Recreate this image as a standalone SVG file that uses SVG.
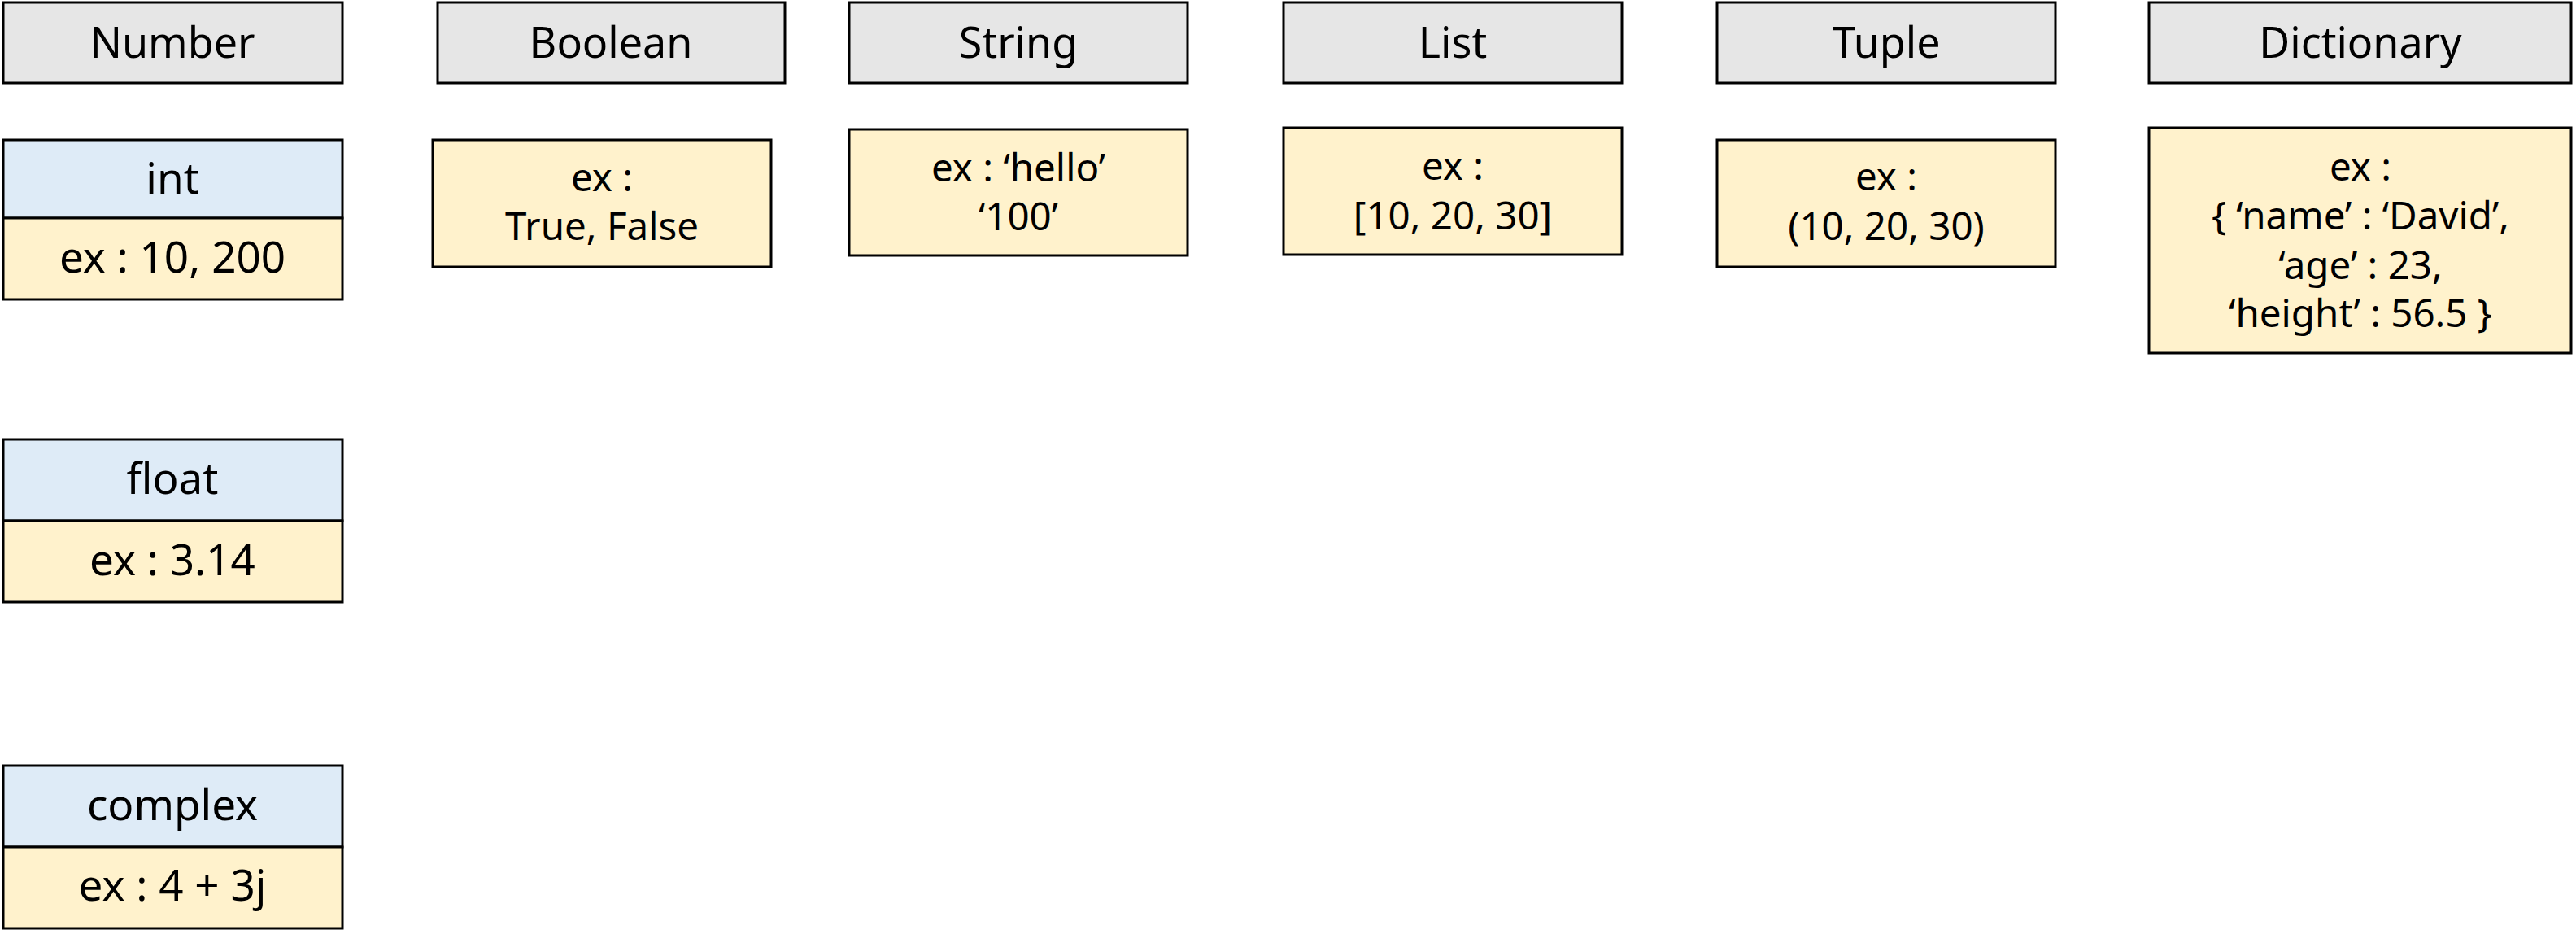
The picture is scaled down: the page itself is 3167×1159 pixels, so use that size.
<svg xmlns="http://www.w3.org/2000/svg" width="3167" height="1159" viewBox="0 0 3167 1159">
<style>
rect{stroke:#000;stroke-width:3}
.hd{fill:#e6e6e6}
.bl{fill:#deebf7}
.yl{fill:#fff2cc}
text{font-family:"Noto Sans","Open Sans","DejaVu Sans",sans-serif;fill:#000;text-anchor:middle}
.th{font-size:52px}
.tl{font-size:53px}
.tb{font-size:47.5px}
</style>
<rect x="0" y="0" width="3167" height="1159" fill="#fff" style="stroke:none"/>
<g id="connectors"/>
<g id="number">
<rect class="hd" x="4" y="3" width="417" height="99"/>
<text class="th" x="212" y="71">Number</text>
</g>
<g id="boolean">
<rect class="hd" x="538" y="3" width="427" height="99"/>
<text class="th" x="751" y="71">Boolean</text>
</g>
<g id="string">
<rect class="hd" x="1044" y="3" width="416" height="99"/>
<text class="th" x="1252" y="71">String</text>
</g>
<g id="list">
<rect class="hd" x="1578" y="3" width="416" height="99"/>
<text class="th" x="1786" y="71">List</text>
</g>
<g id="tuple">
<rect class="hd" x="2111" y="3" width="416" height="99"/>
<text class="th" x="2319" y="71">Tuple</text>
</g>
<g id="dictionary">
<rect class="hd" x="2642" y="3" width="519" height="99"/>
<text class="th" x="2902" y="71">Dictionary</text>
</g>
<g id="int">
<rect class="bl" x="4" y="172" width="417" height="96"/>
<rect class="yl" x="4" y="268" width="417" height="100"/>
<text class="tl" x="212" y="238">int</text>
<text class="tl" x="212" y="335">ex : 10, 200</text>
</g>
<g id="float">
<rect class="bl" x="4" y="540" width="417" height="100"/>
<rect class="yl" x="4" y="640" width="417" height="100"/>
<text class="tl" x="212" y="607">float</text>
<text class="tl" x="212" y="707">ex : 3.14</text>
</g>
<g id="complex">
<rect class="bl" x="4" y="941" width="417" height="100"/>
<rect class="yl" x="4" y="1041" width="417" height="100"/>
<text class="tl" x="212" y="1008">complex</text>
<text class="tl" x="212" y="1107">ex : 4 + 3j</text>
</g>
<g id="boolean-ex">
<rect class="yl" x="532" y="172" width="416" height="156"/>
<text class="tb" x="740" y="235">ex :</text>
<text class="tb" x="740" y="295">True, False</text>
</g>
<g id="string-ex">
<rect class="yl" x="1044" y="159" width="416" height="155"/>
<text class="tb" x="1252" y="223">ex : ‘hello’</text>
<text class="tb" x="1252" y="283">‘100’</text>
</g>
<g id="list-ex">
<rect class="yl" x="1578" y="157" width="416" height="156"/>
<text class="tb" x="1786" y="221">ex :</text>
<text class="tb" x="1786" y="282">[10, 20, 30]</text>
</g>
<g id="tuple-ex">
<rect class="yl" x="2111" y="172" width="416" height="156"/>
<text class="tb" x="2319" y="234">ex :</text>
<text class="tb" x="2319" y="295">(10, 20, 30)</text>
</g>
<g id="dictionary-ex">
<rect class="yl" x="2642" y="157" width="519" height="277"/>
<text class="tb" x="2902" y="222">ex :</text>
<text class="tb" x="2902" y="282">{ ‘name’ : ‘David’,</text>
<text class="tb" x="2902" y="343">‘age’ : 23,</text>
<text class="tb" x="2902" y="402">‘height’ : 56.5 }</text>
</g>
</svg>
